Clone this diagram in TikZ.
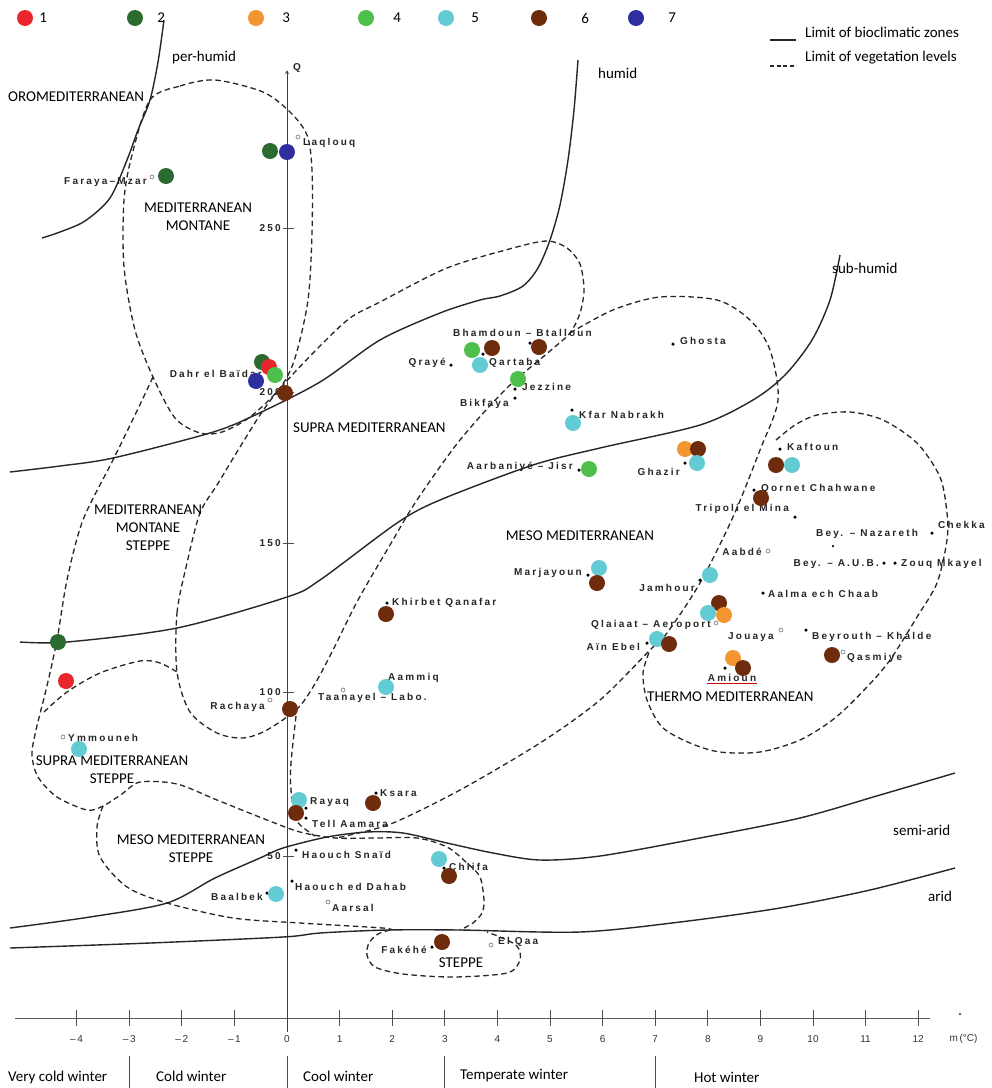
\documentclass[tikz,border=0pt]{standalone}
\usepackage{fontspec}
\setmainfont{Carlito}
\newfontfamily\sitefont[LetterSpace=22]{Liberation Sans Bold}
\newfontfamily\numfont{Liberation Sans}
\usetikzlibrary{positioning, arrows}
\definecolor{c1}{HTML}{E8262B}
\definecolor{c2}{HTML}{2C6B30}
\definecolor{c3}{HTML}{F39530}
\definecolor{c4}{HTML}{4DBF4A}
\definecolor{c5}{HTML}{63CBD3}
\definecolor{c6}{HTML}{6E2C0C}
\definecolor{c7}{HTML}{2F2E9E}
\tikzset{
	>=stealth, % arrow tip of the Q axis
	x=1pt, y=-1pt, % one unit is one pixel of the climagram
	zone/.style={line width=1.4pt, draw=black!85}, % limit of bioclimatic zones
	level/.style={line width=1.3pt, draw=black!85, dash pattern=on 5.5pt off 3.5pt}, % limit of vegetation levels
	dot/.style={circle, inner sep=0pt, minimum size=16pt}, % coloured dots
	pt/.style={circle, fill=black, inner sep=0pt, minimum size=3.5pt}, % station point
	st/.style={circle, draw=black!55, fill=white, inner sep=0pt, minimum size=4pt, line width=0.6pt}, % open station mark
	site/.style={font=\sitefont\fontsize{10}{11}\selectfont, text=black!85, inner sep=1pt}, % station names
	zonetext/.style={font=\fontsize{15}{18}\selectfont, inner sep=0pt, align=center}, % vegetation levels
	tick/.style={font=\numfont\fontsize{10}{11}\selectfont, text=black!80} % axis numbers
}

\begin{document}
\begin{tikzpicture}
\useasboundingbox[fill=white] (0,0) rectangle (992,1088);

% legend
\node[dot, fill=c1] (key1) at (25,18) {};
\node[zonetext, right=6pt of key1] (key1t) {1};
\node[dot, fill=c2] (key2) at (135,18) {};
\node[zonetext, right=14pt of key2] (key2t) {2};
\node[dot, fill=c3] (key3) at (256,18) {};
\node[zonetext, right=18pt of key3] (key3t) {3};
\node[dot, fill=c4] (key4) at (366,18) {};
\node[zonetext, right=19pt of key4] (key4t) {4};
\node[dot, fill=c5] (key5) at (446,18) {};
\node[zonetext, right=17pt of key5] (key5t) {5};
\node[dot, fill=c6] (key6) at (539,18) {};
\node[zonetext, right=34pt of key6] (key6t) {6};
\node[dot, fill=c7] (key7) at (636,18) {};
\node[zonetext, right=24pt of key7] (key7t) {7};
\draw[zone] (770,40) -- (796,40);
\node[zonetext, anchor=west] (keyzone) at (805,32) {Limit of bioclimatic zones};
\draw[level, dash pattern=on 4pt off 2.5pt] (770,66) -- (796,66);
\node[zonetext, anchor=west] (keylevel) at (805,58) {Limit of vegetation levels};

% axes
\draw[black!65, line width=0.7pt] (15,1018) -- (930,1018);
\node[pt, fill=black!70, minimum size=2.5pt] (mdot) at (960,1014) {};
\foreach \m in {-4,...,12} {
	\draw[black!70, line width=0.8pt] ({287+52.6*\m},1010) -- ({287+52.6*\m},1026);
	\node[tick] (m\m) at ({287+52.6*\m},1039) {\ifnum\m<0 –\,\number\numexpr-\m\relax\else\m\fi};
}
\node[tick, anchor=west] (munit) at (946,1039) {m\,(°C)};
\draw[->, black!75, line width=0.9pt] (287,1032) -- (287,70);
\node[site, anchor=west] (qaxis) at (292,68) {Q};
\foreach \q/\y in {250/228, 200/392, 150/543, 100/692, 50/856} {
	\draw[black!70, line width=0.8pt] (283,\y) -- (294,\y);
	\node[site, anchor=east] (q\q) at (282,\y) {\q};
}

% winters
\foreach \m in {-3,0,3,7}
	\draw[black!70, line width=0.8pt] ({287+52.6*\m},1056) -- ({287+52.6*\m},1088);
\node[zonetext, anchor=west] (w1) at (8,1077) {Very cold winter};
\node[zonetext, anchor=west] (w2) at (156,1076) {Cold winter};
\node[zonetext, anchor=west] (w3) at (303,1076) {Cool winter};
\node[zonetext, anchor=west] (w4) at (460,1076) {Temperate winter};
\node[zonetext, anchor=west] (w5) at (694,1077) {Hot winter};

% bioclimatic zones
\draw[zone] plot[smooth] coordinates {(164,20) (158,62) (150,100) (138,130) (127,160) (110,198) (85,221) (60,232) (42,238)};
\draw[zone] plot[smooth] coordinates {(578,60) (574,110) (568,160) (560,205) (550,240) (538,268) (523,286) (500,296) (480,300) (440,313) (380,340) (320,382) (253,416) (210,433) (113,458) (60,466) (10,472)};
\draw[zone] plot[smooth] coordinates {(840,255) (830,300) (812,340) (785,375) (753,400) (700,425) (600,448) (533,465) (440,500) (397,523) (320,580) (287,597) (177,628) (67,642) (20,642)};
\draw[zone] plot[smooth] coordinates {(10,928) (90,917) (167,903) (215,878) (260,858) (283,848) (327,837) (367,832) (403,833) (447,843) (493,853) (540,860) (600,856) (700,838) (800,818) (880,795) (955,773)};
\draw[zone] plot[smooth] coordinates {(10,948) (150,943) (283,937) (320,933) (387,930) (460,930) (580,932) (680,922) (780,908) (870,890) (955,868)};
\node[zonetext, anchor=west] (perhumid) at (172,57) {per-humid};
\node[zonetext, anchor=west] (humid) at (598,73) {humid};
\node[zonetext, anchor=west] (subhumid) at (832,268) {sub-humid};
\node[zonetext, anchor=west] (semiarid) at (893,830) {semi-arid};
\node[zonetext, anchor=west] (arid) at (928,896) {arid};

% vegetation levels
\draw[level] plot[smooth cycle] coordinates {(150,100) (180,86) (215,80) (263,92) (290,112) (307,135) (312,170) (312,233) (308,300) (295,358) (280,388) (250,417) (222,432) (200,433) (175,418) (153,377) (135,330) (124,267) (124,200) (132,155)};
\draw[level] plot[smooth] coordinates {(153,377) (135,415) (113,460) (83,520) (67,580) (57,640) (46,690) (36,730) (32,755) (38,777) (57,797) (87,810) (103,806) (122,794) (140,782) (177,784) (217,800) (267,820) (300,832) (335,838) (375,838) (417,838) (447,847) (467,863) (480,877) (484,900) (482,913) (473,923) (460,930)};
\draw[level] plot[smooth] coordinates {(44,712) (67,692) (100,673) (140,661) (160,663) (177,672)};
\draw[level] plot[smooth cycle] coordinates {(177,672) (177,613) (187,563) (200,513) (217,485) (240,447) (262,412) (283,385) (320,346) (350,318) (380,302) (447,268) (513,248) (547,241) (567,248) (580,264) (584,290) (580,313) (570,333) (550,351) (507,388) (460,440) (417,500) (390,545) (358,600) (333,650) (316,682) (298,708) (267,730) (243,738) (217,733) (190,712)};
\draw[level] plot[smooth] coordinates {(570,333) (613,310) (660,297) (717,300) (750,320) (770,350) (778,400) (760,450) (733,517) (700,583) (667,633) (650,650) (600,700) (540,743) (460,790) (393,823) (350,835) (335,838)};
\draw[level] plot[smooth] coordinates {(296,716) (291,763) (291,790) (296,820) (315,836)};
\draw[level] plot[smooth] coordinates {(776,440) (795,425) (817,415) (850,412) (883,420) (917,443) (940,477) (947,513) (947,540) (937,583) (917,617) (890,660) (867,687) (835,718) (800,740) (760,752) (720,752) (690,743) (662,727) (647,700) (643,673) (650,650)};
\draw[level] plot[smooth] coordinates {(103,806) (97,827) (100,857) (127,887) (167,903) (233,918) (300,923) (383,928) (390,930)};
\draw[level] plot[smooth] coordinates {(390,930) (378,934) (369,943) (367,955) (375,967) (403,974) (453,977) (507,973) (520,960) (517,946) (500,937) (487,932)};

% vegetation level names
\node[zonetext, anchor=west] (oromed) at (8,97) {OROMEDITERRANEAN};
\node[zonetext] (montane) at (198,217) {MEDITERRANEAN\\MONTANE};
\node[zonetext, anchor=west] (supramed) at (293,428) {SUPRA MEDITERRANEAN};
\node[zonetext] (montsteppe) at (148,528) {MEDITERRANEAN\\MONTANE\\STEPPE};
\node[zonetext] (mesomed) at (580,536) {MESO MEDITERRANEAN};
\node[zonetext, anchor=west] (thermomed) at (647,697) {THERMO MEDITERRANEAN};
\node[zonetext] (suprasteppe) at (112,770) {SUPRA MEDITERRANEAN\\STEPPE};
\node[zonetext] (mesosteppe) at (191,849) {MESO MEDITERRANEAN\\STEPPE};
\node[zonetext] (steppe) at (461,963) {STEPPE};

% stations
\node[st] (laqlouqM) at (298,137) {};
\node[site, anchor=west] (laqlouq) at (302,143) {Laqlouq};
\node[st] (farayaM) at (152,177) {};
\node[site, anchor=east] (faraya) at (148,182) {Faraya–Mzar};
\node[site, anchor=east] (dahr) at (263,374) {Dahr el Baïdar};
\node[pt] (qrayeM) at (451,365) {};
\node[site, anchor=east] (qraye) at (447,363) {Qrayé};
\node[pt] (qartabaM) at (483,354) {};
\node[site, anchor=west] (qartaba) at (488,363) {Qartaba};
\node[pt] (bhamdounM) at (530,343) {};
\node[site, anchor=west] (bhamdoun) at (452,333) {Bhamdoun – Btalloun};
\node[pt] (jezzineM) at (515,389) {};
\node[site, anchor=west] (jezzine) at (521,387) {Jezzine};
\node[pt] (bikfayaM) at (515,398) {};
\node[site, anchor=east] (bikfaya) at (510,404) {Bikfaya};
\node[pt] (kfarM) at (572,410) {};
\node[site, anchor=west] (kfar) at (578,415) {Kfar Nabrakh};
\node[pt] (ghostaM) at (673,344) {};
\node[site, anchor=west] (ghosta) at (679,341) {Ghosta};
\node[pt] (aarbaniyeM) at (579,470) {};
\node[site, anchor=east] (aarbaniye) at (574,467) {Aarbaniyé – Jisr};
\node[pt] (ghazirM) at (685,463) {};
\node[site, anchor=east] (ghazir) at (681,472) {Ghazir};
\node[pt] (kaftounM) at (780,449) {};
\node[site, anchor=west] (kaftoun) at (786,447) {Kaftoun};
\node[pt] (qornetM) at (754,490) {};
\node[site, anchor=west] (qornet) at (760,489) {Qornet Chahwane};
\node[pt] (tripoliM) at (795,517) {};
\node[site, anchor=east] (tripoli) at (790,509) {Tripoli el Mina};
\node[pt, minimum size=2.5pt] (nazarethM) at (833,546) {};
\node[site, anchor=west] (nazareth) at (815,534) {Bey. – Nazareth};
\node[pt] (chekkaM) at (932,533) {};
\node[site, anchor=west] (chekka) at (937,525) {Chekka};
\node[st] (aabdeM) at (768,551) {};
\node[site, anchor=east] (aabde) at (763,552) {Aabdé};
\node[pt] (aubM) at (884,563) {};
\node[site, anchor=east] (aub) at (880,564) {Bey. – A.U.B.};
\node[pt] (zouqM) at (895,563) {};
\node[site, anchor=west] (zouq) at (900,564) {Zouq Mkayel};
\node[pt] (jamhourM) at (700,580) {};
\node[site, anchor=east] (jamhour) at (696,588) {Jamhour};
\node[pt] (aalmaM) at (763,593) {};
\node[site, anchor=west] (aalma) at (767,594) {Aalma ech Chaab};
\node[st] (qlaiaatM) at (716,623) {};
\node[site, anchor=east] (qlaiaat) at (712,625) {Qlaiaat – Aeroport};
\node[pt] (ainebelM) at (647,643) {};
\node[site, anchor=east] (ainebel) at (641,647) {Aïn Ebel};
\node[st] (jouayaM) at (781,630) {};
\node[site, anchor=west] (jouaya) at (727,637) {Jouaya};
\node[pt] (khaldeM) at (806,630) {};
\node[site, anchor=west] (khalde) at (811,637) {Beyrouth – Khalde};
\node[st] (qasmiyeM) at (843,652) {};
\node[site, anchor=west] (qasmiye) at (846,658) {Qasmiye};
\node[pt] (amiounM) at (725,668) {};
\node[site] (amioun) at (732,678) {Amioun};
\draw[red!80!black, line width=1.1pt] ([yshift=-1pt]amioun.south west) -- ([yshift=-1pt]amioun.south east);
\node[pt] (marjayounM) at (588,575) {};
\node[site, anchor=east] (marjayoun) at (583,573) {Marjayoun};
\node[pt] (khirbetM) at (387,603) {};
\node[site, anchor=west] (khirbet) at (391,603) {Khirbet Qanafar};
\node[st] (aammiqM) at (383,683) {};
\node[site, anchor=west] (aammiq) at (387,678) {Aammiq};
\node[st] (taanayelM) at (343,690) {};
\node[site, anchor=west] (taanayel) at (317,698) {Taanayel – Labo.};
\node[st] (rachayaM) at (270,700) {};
\node[site, anchor=east] (rachaya) at (266,707) {Rachaya};
\node[st] (ymmounehM) at (63,737) {};
\node[site, anchor=west] (ymmouneh) at (67,738) {Ymmouneh};
\node[pt] (rayaqM) at (306,808) {};
\node[site, anchor=west] (rayaq) at (309,802) {Rayaq};
\node[pt] (tellM) at (306,818) {};
\node[site, anchor=west] (tell) at (311,824) {Tell Aamara};
\node[pt] (ksaraM) at (376,793) {};
\node[site, anchor=west] (ksara) at (379,793) {Ksara};
\node[pt] (snaidM) at (296,850) {};
\node[site, anchor=west] (snaid) at (301,855) {Haouch Snaïd};
\node[pt] (dahabM) at (292,881) {};
\node[site, anchor=west] (dahab) at (294,887) {Haouch ed Dahab};
\node[pt] (baalbekM) at (267,893) {};
\node[site, anchor=east] (baalbek) at (264,897) {Baalbek};
\node[st] (aarsalM) at (328,902) {};
\node[site, anchor=west] (aarsal) at (331,908) {Aarsal};
\node[pt] (chlifaM) at (444,868) {};
\node[site, anchor=west] (chlifa) at (448,867) {Chlifa};
\node[pt] (fakeheM) at (432,947) {};
\node[site, anchor=east] (fakehe) at (428,950) {Fakéhé};
\node[st] (elqaaM) at (491,945) {};
\node[site, anchor=west] (elqaa) at (497,942) {El Qaa};

% coloured dots
\node[dot, fill=c2] (laqlouq2) at (270,151) {};
\node[dot, fill=c7] (laqlouq7) at (287,152) {};
\node[dot, fill=c2] (faraya2) at (166,176) {};
\node[dot, fill=c2] (dahr2) at (262,362) {};
\node[dot, fill=c1] (dahr1) at (269,367) {};
\node[dot, fill=c7] (dahr7) at (256,381) {};
\node[dot, fill=c4] (dahr4) at (275,375) {};
\node[dot, fill=c6] (q200) at (285,393) {};
\node[dot, fill=c4] (qartaba4) at (472,350) {};
\node[dot, fill=c6] (qartaba6) at (492,348) {};
\node[dot, fill=c5] (qartaba5) at (480,365) {};
\node[dot, fill=c6] (bhamdoun6) at (539,347) {};
\node[dot, fill=c4] (jezzine4) at (518,379) {};
\node[dot, fill=c5] (kfar5) at (573,423) {};
\node[dot, fill=c4] (aarbaniye4) at (589,469) {};
\node[dot, fill=c3] (ghazir3) at (685,449) {};
\node[dot, fill=c6] (ghazir6) at (698,449) {};
\node[dot, fill=c5] (ghazir5) at (697,463) {};
\node[dot, fill=c6] (kaftoun6) at (776,465) {};
\node[dot, fill=c5] (kaftoun5) at (792,465) {};
\node[dot, fill=c6] (qornet6) at (761,498) {};
\node[dot, fill=c5] (jamhour5) at (710,575) {};
\node[dot, fill=c6] (qlaiaat6) at (719,603) {};
\node[dot, fill=c5] (qlaiaat5) at (708,613) {};
\node[dot, fill=c3] (qlaiaat3) at (724,615) {};
\node[dot, fill=c5] (ainebel5) at (657,639) {};
\node[dot, fill=c6] (ainebel6) at (669,644) {};
\node[dot, fill=c3] (amioun3) at (733,658) {};
\node[dot, fill=c6] (amioun6) at (743,668) {};
\node[dot, fill=c6] (qasmiye6) at (832,655) {};
\node[dot, fill=c5] (marjayoun5) at (599,568) {};
\node[dot, fill=c6] (marjayoun6) at (597,583) {};
\node[dot, fill=c6] (khirbet6) at (386,614) {};
\node[dot, fill=c5] (aammiq5) at (386,687) {};
\node[dot, fill=c6] (rachaya6) at (290,709) {};
\node[dot, fill=c5] (ymmouneh5) at (79,749) {};
\node[dot, fill=c2] (left2) at (58,642) {};
\node[dot, fill=c1] (left1) at (66,681) {};
\node[dot, fill=c5] (rayaq5) at (299,800) {};
\node[dot, fill=c6] (rayaq6) at (296,813) {};
\node[dot, fill=c6] (ksara6) at (373,803) {};
\node[dot, fill=c5] (baalbek5) at (276,894) {};
\node[dot, fill=c5] (chlifa5) at (439,859) {};
\node[dot, fill=c6] (chlifa6) at (449,876) {};
\node[dot, fill=c6] (fakehe6) at (442,942) {};
\end{tikzpicture}
\end{document}
